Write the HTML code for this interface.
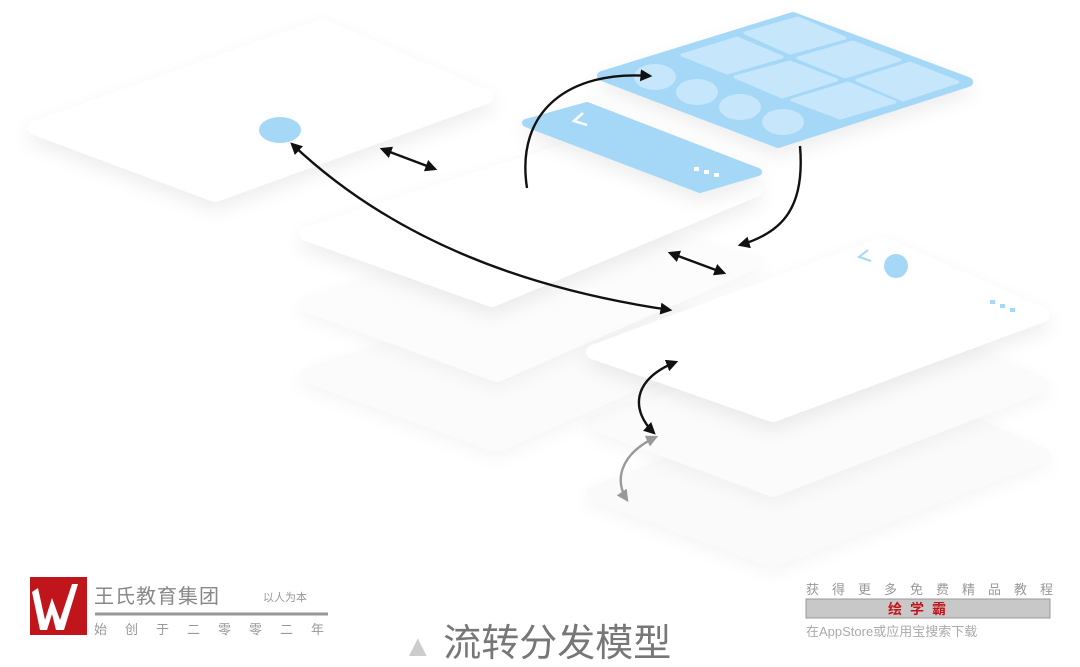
<!DOCTYPE html>
<html><head><meta charset="utf-8"><style>
body{margin:0;width:1080px;height:656px;background:#fff;overflow:hidden;position:relative;font-family:"Liberation Sans","Noto Sans CJK SC",sans-serif}
svg{position:absolute;left:0;top:0}
.t{position:absolute;white-space:nowrap}
</style></head><body>
<svg width="1080" height="656" viewBox="0 0 1080 656">
<defs>
<filter id="sh" x="-20%" y="-20%" width="140%" height="160%"><feDropShadow dx="0" dy="8" stdDeviation="9" flood-color="#000" flood-opacity="0.07"/></filter>
<filter id="sh2" x="-20%" y="-20%" width="140%" height="160%"><feDropShadow dx="0" dy="6" stdDeviation="8" flood-color="#000" flood-opacity="0.04"/></filter>
<marker id="a" viewBox="0 0 10 10" refX="8" refY="5" markerWidth="5" markerHeight="5" orient="auto-start-reverse"><path d="M0,0L10,5L0,10z" fill="#111"/></marker>
<marker id="g" viewBox="0 0 10 10" refX="8" refY="5" markerWidth="5" markerHeight="5" orient="auto-start-reverse"><path d="M0,0L10,5L0,10z" fill="#999"/></marker>
</defs>
<g stroke-linejoin="round" stroke-width="14">
<polygon points="593,493 883,383 1043,455 773,560" fill="#fafafa" stroke="#fafafa" filter="url(#sh2)"/>
<polygon points="593,423 883,313 1043,385 773,490" fill="#fbfbfb" stroke="#fbfbfb" filter="url(#sh2)"/>
<polygon points="307,375 567,290 755,330 497,445" fill="#fbfbfb" stroke="#fbfbfb" filter="url(#sh2)"/>
<polygon points="307,305 567,220 755,262 497,375" fill="#fcfcfc" stroke="#fcfcfc" filter="url(#sh2)"/>
<polygon points="35,128 322,26 486,97 215,195" fill="#fff" stroke="#fff" filter="url(#sh)"/>
<polygon points="307,234 567,150 755,190 492,300" fill="#fff" stroke="#fff" filter="url(#sh)"/>
<polygon points="593,352 883,244 1043,315 773,415" fill="#fff" stroke="#fff" filter="url(#sh)"/>
<polygon points="602,76 793,17 968,82 778,143" fill="#a5d8f7" stroke="#a5d8f7" filter="url(#sh)" stroke-width="10"/>
<polygon points="526,123 587,106 758,172 700,189" fill="#a5d8f7" stroke="#a5d8f7" filter="url(#sh)" stroke-width="8"/>
</g>
<g fill="#c6e6fb" stroke="#c6e6fb" stroke-width="3" stroke-linejoin="round">
<polygon points="745,33 798,18 845,38 790,53"/>
<polygon points="798,58 853,42 900,60 845,77"/>
<polygon points="857,80 910,63 958,82 903,100"/>
<polygon points="682,55 737,38 782,57 727,73"/>
<polygon points="735,77 790,62 837,80 782,97"/>
<polygon points="792,100 848,83 895,102 840,118"/>
</g>
<g fill="#c6e6fb">
<ellipse cx="655" cy="77" rx="21" ry="13"/>
<ellipse cx="697" cy="92" rx="21" ry="13"/>
<ellipse cx="740" cy="107" rx="21" ry="13"/>
<ellipse cx="783" cy="122" rx="21" ry="13"/>
</g>
<path d="M583,113 L574,121 L587,125" fill="none" stroke="#fff" stroke-width="2.5"/>
<g fill="#fff"><rect x="694" y="167" width="5" height="4"/><rect x="704" y="170" width="5" height="4"/><rect x="714" y="173" width="5" height="4"/></g>
<ellipse cx="280" cy="130" rx="21" ry="13" fill="#a5d8f7"/>
<circle cx="896" cy="266" r="12" fill="#a5d8f7"/>
<path d="M868,250 L859,257 L871,261" fill="none" stroke="#a5d8f7" stroke-width="2"/>
<g fill="#a5d8f7"><rect x="990" y="300" width="5" height="4"/><rect x="1000" y="304" width="5" height="4"/><rect x="1010" y="308" width="5" height="4"/></g>
<g fill="none" stroke="#111" stroke-width="2.4">
<path d="M670,310 Q430,275 292,144" marker-start="url(#a)" marker-end="url(#a)"/>
<path d="M382,149 L435,169" marker-start="url(#a)" marker-end="url(#a)"/>
<path d="M670,253 L724,273" marker-start="url(#a)" marker-end="url(#a)"/>
<path d="M527,188 C515,110 570,70 650,76" marker-end="url(#a)"/>
<path d="M800,146 C805,205 785,232 740,245" marker-end="url(#a)"/>
<path d="M676,362 C630,380 632,412 654,433" marker-start="url(#a)" marker-end="url(#a)"/>
</g>
<path d="M656,437 C618,455 615,482 627,500" fill="none" stroke="#999" stroke-width="2.4" marker-start="url(#g)" marker-end="url(#g)"/>
<rect x="30" y="577" width="57" height="58" fill="#c0161b"/>
<path d="M38,588 L45,620 L52,598 L60,620 L72,584 L78,584 L64,630 L56,630 L52,614 L47,630 L40,630 L32,592z" fill="#fff"/>
<line x1="95" y1="614" x2="328" y2="614" stroke="#999" stroke-width="3"/>
<rect x="806" y="599" width="244" height="19" fill="#c8c8c8" stroke="#999"/>
</svg>
<div class="t" style="left:94px;top:580px;font-size:20px;color:#888;letter-spacing:1px">王氏教育集团</div>
<div class="t" style="left:263px;top:589px;font-size:11px;color:#999">以人为本</div>
<div class="t" style="left:94px;top:619px;font-size:13px;color:#999;letter-spacing:18px">始创于二零零二年</div>
<div class="t" style="left:403px;top:612px;font-size:38px;color:#777"><span style="color:#ccc;font-size:30px">▲</span> 流转分发模型</div>
<div class="t" style="left:806px;top:579px;font-size:13px;color:#999;letter-spacing:13px">获得更多免费精品教程</div>
<div class="t" style="left:888px;top:599px;font-size:14px;color:#c0161b;font-weight:bold;letter-spacing:8px">绘学霸</div>
<div class="t" style="left:806px;top:621px;font-size:13px;color:#aaa">在AppStore或应用宝搜索下载</div>
</body></html>
